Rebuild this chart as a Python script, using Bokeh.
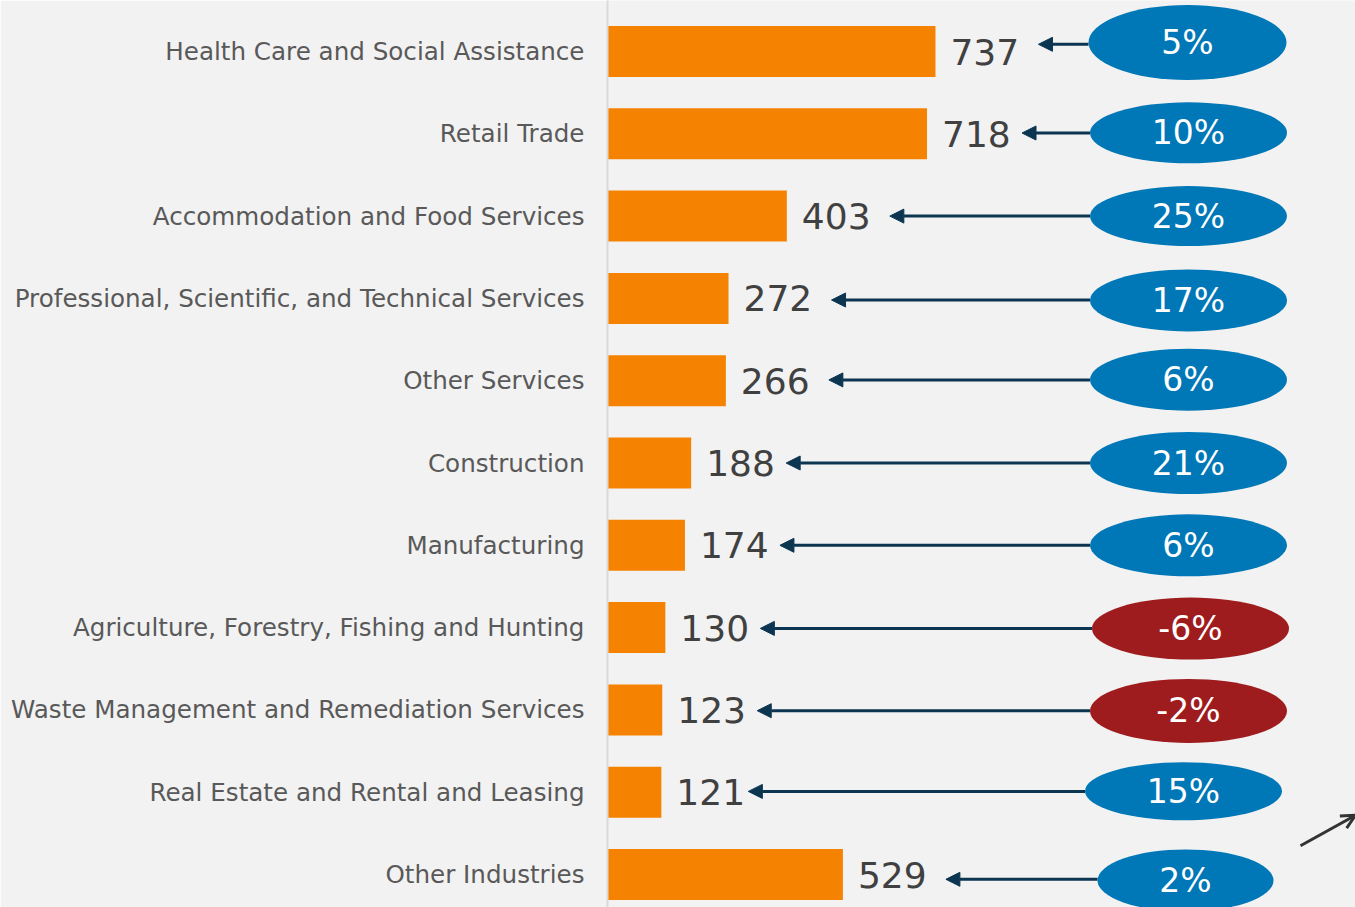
from bokeh.plotting import figure
from bokeh.models import ColumnDataSource, Range1d, FixedTicker, Arrow, NormalHead, OpenHead
from bokeh.core.properties import value
from bokeh.embed import file_html
from bokeh.resources import INLINE

categories = [
    "Health Care and Social Assistance",
    "Retail Trade",
    "Accommodation and Food Services",
    "Professional, Scientific, and Technical Services",
    "Other Services",
    "Construction",
    "Manufacturing",
    "Agriculture, Forestry, Fishing and Hunting",
    "Waste Management and Remediation Services",
    "Real Estate and Rental and Leasing",
    "Other Industries",
]
values = [737, 718, 403, 272, 266, 188, 174, 130, 123, 121, 529]
growth = [5, 10, 25, 17, 6, 21, 6, -6, -2, 15, 2]

FONT = "DejaVu Sans"
BG = "#f2f2f2"
BAR = "#f58200"
BLUE = "#0077b6"
RED = "#9e1c1e"
NAVY = "#0c3551"

W, H = 1355, 907
LEFT = 607
px_per_unit = 0.445
x_end = (W - LEFT) / px_per_unit
row_px = 82.3
top_px = 51.0
y_top = -top_px / row_px
y_bot = (H - top_px) / row_px

n = len(categories)
ys = list(range(n))

# ellipse styling (pixels): small hand-drawn offsets of the badges
ell_dx_px = [-1, 0, 0, 0, 0, 0, 0, 2, 0, -5, -3]
ell_dy_px = [-9, -1, 0, 2, -1, 0, 0, 1, 1, -1, 6]
ell_w_px = [198, 197, 197, 197, 197, 197, 197, 197, 197, 197, 176]
ell_h_px = [75, 61, 60, 62, 62, 62, 62, 62, 64, 58, 62]

ell_cx = (1188 - LEFT) / px_per_unit
ell_x = [ell_cx + d / px_per_unit for d in ell_dx_px]
ell_y = [y + d / row_px for y, d in zip(ys, ell_dy_px)]
ell_w = [w / px_per_unit for w in ell_w_px]
ell_h = [h / row_px for h in ell_h_px]

def text_w(s):
    return sum(14 if c == "1" else 22 for c in s)

arrow_start = [x - w / 2 for x, w in zip(ell_x, ell_w)]
arrow_end = [v + (15 + text_w(str(v)) + 22) / px_per_unit for v in values]
arrow_y = [y + d / row_px * 0.8 for y, d in zip(ys, ell_dy_px)]

src = ColumnDataSource(dict(
    y=ys, v=values, lbl=[str(v) for v in values],
    pct=[f"{g}%" for g in growth],
    col=[BLUE if g >= 0 else RED for g in growth],
    ex=ell_x, ey=ell_y, ew=ell_w, eh=ell_h,
    xs=arrow_start, xe=arrow_end, ay=arrow_y,
))

p = figure(width=W, height=H, output_backend="svg", toolbar_location=None,
           x_range=Range1d(0, x_end), y_range=Range1d(y_bot, y_top),
           min_border_left=LEFT, min_border_right=0, min_border_top=0, min_border_bottom=0)
p.background_fill_color = BG
p.border_fill_color = BG
p.outline_line_color = None
p.grid.visible = False
p.xaxis.visible = False

yax = p.yaxis[0]
yax.ticker = FixedTicker(ticks=ys)
yax.major_label_overrides = {i: c for i, c in enumerate(categories)}
yax.major_tick_line_color = None
yax.minor_tick_line_color = None
yax.axis_line_color = "#d9d9d9"
yax.axis_line_width = 2
yax.major_label_standoff = 17
yax.major_label_text_font = FONT
yax.major_label_text_font_size = "24.6px"
yax.major_label_text_color = "#595959"

p.hbar(y="y", right="v", left=0, height=0.62, source=src, fill_color=BAR, line_color=None)

p.text(x="v", y="y", text="lbl", source=src, x_offset=15, text_baseline="middle",
       text_align="left", text_font=value(FONT), text_font_size="36px", text_color="#404040")

p.add_layout(Arrow(x_start="xs", y_start="ay", x_end="xe", y_end="ay", source=src,
                   line_color=NAVY, line_width=3,
                   end=NormalHead(size=14, fill_color=NAVY, line_color=NAVY)))

p.ellipse(x="ex", y="ey", width="ew", height="eh", source=src, fill_color="col", line_color=None)

p.text(x="ex", y="ey", text="pct", source=src, text_baseline="middle", text_align="center",
       text_font=value(FONT), text_font_size="33px", text_color="white")

# small pointer arrow at bottom right
p.add_layout(Arrow(x_start=ell_cx + 112 / px_per_unit, y_start=n - 1 - 0.35,
                   x_end=x_end, y_end=n - 1 - 0.72,
                   line_color="#333333", line_width=3,
                   end=OpenHead(size=14, line_color="#333333", line_width=3)))

open("out.html", "w").write(file_html(p, INLINE))
